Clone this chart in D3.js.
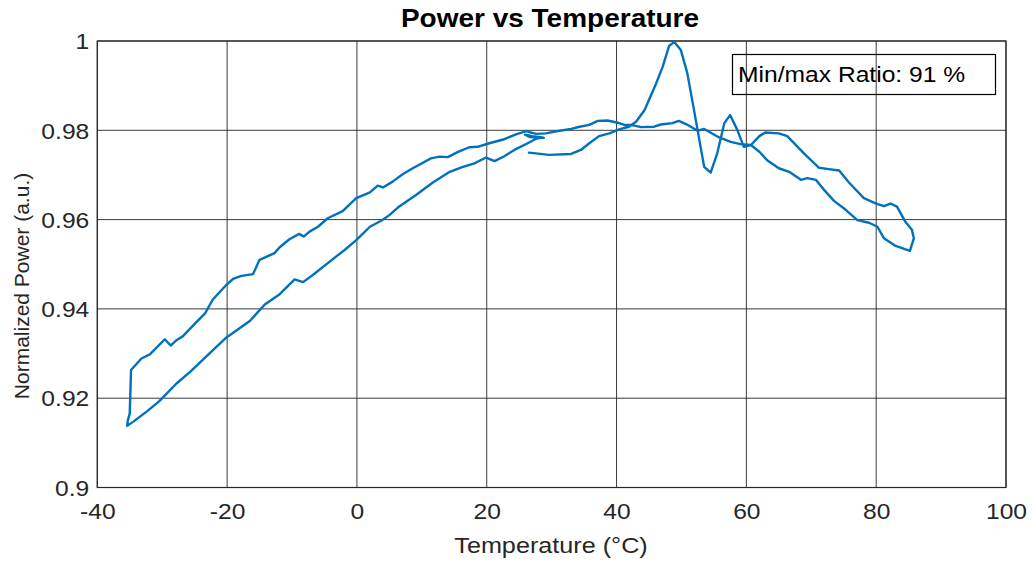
<!DOCTYPE html>
<html>
<head>
<meta charset="utf-8">
<script src="https://cdn.jsdelivr.net/npm/d3@7"></script>
<style>
  html, body { margin: 0; padding: 0; background: #fff; }
  svg { display: block; font-family: "Liberation Sans", Arial, Helvetica, sans-serif; }
</style>
</head>
<body>
<svg id="chart" width="1035" height="563"></svg>
<script>
// Temperature sweep (°C) and the normalized optical power measured along it
const tempC = [
  26.5, 29.6, 33.0, 34.5, 35.8, 37.3, 38.9, 40.4, 41.9, 43.0, 44.3, 46.1, 47.1, 48.1, 48.9, 49.9,
  50.9, 51.9, 53.5, 54.5, 55.5, 56.6, 57.5, 58.6, 59.6, 60.7,
  62.0, 62.9, 65.0, 66.3, 67.9, 69.1, 71.2, 72.7, 74.3, 75.8, 78.1, 80.0, 81.2, 82.2, 83.2, 84.5,
  85.5, 85.8, 85.2,
  83.0, 81.2, 80.2, 78.9, 77.1, 75.3, 73.5, 72.0, 70.7, 69.4, 68.4, 66.6, 65.0, 63.2, 62.0, 60.7,
  59.1, 57.6, 55.8, 53.5, 52.5, 50.7, 49.6, 48.6, 46.8, 45.8, 43.8, 42.2, 41.2, 40.2, 38.6, 37.1,
  35.8, 34.3, 33.0, 31.2, 29.1, 27.6, 26.8, 26.1, 24.5, 22.7, 20.4, 18.6, 17.3, 15.5, 14.0, 12.7,
  11.4, 8.6, 7.1, 5.5, 4.0, 3.2, 2.0, -0.1, -2.2, -4.5, -6.0, -7.3, -8.2, -8.9, -10.4, -11.9,
  -12.7, -13.9, -15.0, -16.0, -17.8, -19.1, -20.1, -22.2, -23.4, -24.7, -26.8, -27.8, -28.7, -29.6,
  -31.9, -33.2, -34.8, -35.0, -35.3, -35.4,
  -34.5, -32.4, -30.4, -27.8, -25.7, -23.4, -20.1, -16.5, -14.2, -11.9, -9.6, -8.3, -6.8, -4.2,
  -1.9, -0.1, 2.0, 3.8, 5.0, 6.3, 9.1, 11.7, 14.3, 16.1, 18.1, 19.9, 21.2, 22.7, 24.5, 26.3,
  27.6, 28.6, 27.0, 25.9, 26.6, 28.8
];
const normPower = [
  0.9750, 0.9745, 0.9747, 0.9756, 0.9771, 0.9787, 0.9793, 0.9802, 0.9808, 0.9819, 0.9845, 0.9905,
  0.9942, 0.9989, 0.9998, 0.9980,
  0.9928, 0.9848, 0.9718, 0.9705, 0.9748, 0.9816, 0.9834, 0.9801, 0.9763, 0.9767,
  0.9787, 0.9795, 0.9793, 0.9787, 0.9763, 0.9745, 0.9716, 0.9713, 0.9710, 0.9683, 0.9648, 0.9636,
  0.9630, 0.9636, 0.9629, 0.9595,
  0.9577, 0.9558, 0.9530,
  0.9541, 0.9558, 0.9584, 0.9593, 0.9599, 0.9622, 0.9642, 0.9666, 0.9689, 0.9693, 0.9689, 0.9707,
  0.9715, 0.9733, 0.9752, 0.9767,
  0.9769, 0.9774, 0.9784, 0.9803, 0.9799, 0.9814, 0.9821, 0.9816, 0.9813, 0.9808, 0.9807, 0.9812,
  0.9812, 0.9817, 0.9822, 0.9821,
  0.9812, 0.9808, 0.9803, 0.9799, 0.9793, 0.9792, 0.9795, 0.9798, 0.9791, 0.9780, 0.9771, 0.9763,
  0.9762, 0.9751, 0.9740, 0.9741,
  0.9737, 0.9715, 0.9702, 0.9685, 0.9672, 0.9676, 0.9661, 0.9648, 0.9619, 0.9603, 0.9584, 0.9573,
  0.9562, 0.9568, 0.9556, 0.9538,
  0.9525, 0.9517, 0.9510, 0.9478, 0.9474, 0.9467, 0.9454, 0.9421, 0.9390, 0.9371, 0.9339, 0.9330,
  0.9318, 0.9332,
  0.9298, 0.9289, 0.9263, 0.9166, 0.9150, 0.9138,
  0.9147, 0.9170, 0.9194, 0.9233, 0.9259, 0.9291, 0.9336, 0.9373, 0.9410, 0.9433, 0.9466, 0.9460,
  0.9476, 0.9506,
  0.9532, 0.9554, 0.9584, 0.9598, 0.9610, 0.9627, 0.9655, 0.9683, 0.9707, 0.9717, 0.9726, 0.9739,
  0.9731, 0.9742, 0.9758, 0.9771,
  0.9781, 0.9784, 0.9787, 0.9790, 0.9785, 0.9783
];

const xTicks = [-40, -20, 0, 20, 40, 60, 80, 100];
const yTicks = [0.9, 0.92, 0.94, 0.96, 0.98, 1];
const xTickLabels = ["-40", "-20", "0", "20", "40", "60", "80", "100"];
const yTickLabels = ["0.9", "0.92", "0.94", "0.96", "0.98", "1"];

const titleText = "Power vs Temperature";
const xLabelText = "Temperature (\u00B0C)";
const yLabelText = "Normalized Power (a.u.)";
const ratioText = "Min/max Ratio: 91 %";

// ---- layout ----
const plot = { left: 97.3, right: 1006, top: 41, bottom: 487.5 };
const fontPx = 22;
const stretchX = 1.12;          // glyphs are drawn slightly wide
const axisColor = "#262626";
const lineColor = "#0072BD";

const svg = d3.select("#chart");

const x = d3.scaleLinear().domain([-40, 100]).range([plot.left, plot.right]);
const y = d3.scaleLinear().domain([0.9, 1]).range([plot.bottom, plot.top]);

// grid lines
const grid = svg.append("g").attr("class", "grid");
grid.selectAll("line.vx").data(xTicks).join("line")
  .attr("x1", d => x(d)).attr("x2", d => x(d))
  .attr("y1", plot.top).attr("y2", plot.bottom)
  .attr("stroke", axisColor).attr("stroke-width", 1).attr("stroke-opacity", 0.9);
grid.selectAll("line.hy").data(yTicks).join("line")
  .attr("x1", plot.left).attr("x2", plot.right)
  .attr("y1", d => y(d)).attr("y2", d => y(d))
  .attr("stroke", axisColor).attr("stroke-width", 1).attr("stroke-opacity", 0.9);

// axes (tick labels only, inside ticks hidden by grid)
const xAxis = d3.axisBottom(x).tickValues(xTicks)
  .tickFormat((d, i) => xTickLabels[i]).tickSize(0).tickPadding(0);
const yAxis = d3.axisLeft(y).tickValues(yTicks)
  .tickFormat((d, i) => yTickLabels[i]).tickSize(0).tickPadding(0);

const gx = svg.append("g").attr("transform", `translate(0,${plot.bottom})`).call(xAxis);
const gy = svg.append("g").attr("transform", `translate(${plot.left},0)`).call(yAxis);

[gx, gy].forEach(g => {
  g.select(".domain").remove();
  g.selectAll("text")
    .attr("fill", axisColor)
    .style("font-size", fontPx + "px")
    .style("font-family", '"Liberation Sans", Arial, sans-serif');
});
gx.selectAll("text").attr("dy", null).attr("y", 0)
  .attr("transform", `translate(0,31) scale(${stretchX},1)`);
gy.selectAll("text").attr("x", 0).attr("dy", "0.35em")
  .attr("transform", `translate(-8,0) scale(${stretchX},1)`);

// box around the axes
svg.append("rect")
  .attr("x", plot.left).attr("y", plot.top)
  .attr("width", plot.right - plot.left).attr("height", plot.bottom - plot.top)
  .attr("fill", "none").attr("stroke", axisColor).attr("stroke-width", 1.2);

// the measured curve
const pts = tempC.map((t, i) => [t, normPower[i]]);
const line = d3.line().x(d => x(d[0])).y(d => y(d[1])).curve(d3.curveLinear);
svg.append("path")
  .datum(pts)
  .attr("d", line)
  .attr("fill", "none")
  .attr("stroke", lineColor)
  .attr("stroke-width", 2.4)
  .attr("stroke-linejoin", "round")
  .attr("stroke-linecap", "round");

// title
svg.append("g").attr("transform", `translate(550,27) scale(${stretchX},1)`)
  .append("text")
  .attr("text-anchor", "middle")
  .attr("font-weight", "bold")
  .style("font-size", "25px")
  .attr("fill", "#000")
  .text(titleText);

// x label
svg.append("g").attr("transform", `translate(551,553) scale(${stretchX},1)`)
  .append("text")
  .attr("text-anchor", "middle")
  .style("font-size", "22.5px")
  .attr("fill", axisColor)
  .text(xLabelText);

// y label
svg.append("g").attr("transform", `translate(29,286) rotate(-90)`)
  .append("text")
  .attr("text-anchor", "middle")
  .style("font-size", "21px")
  .attr("fill", axisColor)
  .text(yLabelText);

// min/max ratio annotation
const note = svg.append("g");
note.append("rect")
  .attr("x", 732.5).attr("y", 54.5).attr("width", 263).attr("height", 40)
  .attr("fill", "none").attr("stroke", "#000").attr("stroke-width", 1.2);
note.append("g").attr("transform", `translate(738,82) scale(${stretchX},1)`)
  .append("text")
  .style("font-size", fontPx + "px")
  .attr("fill", "#000")
  .text(ratioText);
</script>
</body>
</html>
